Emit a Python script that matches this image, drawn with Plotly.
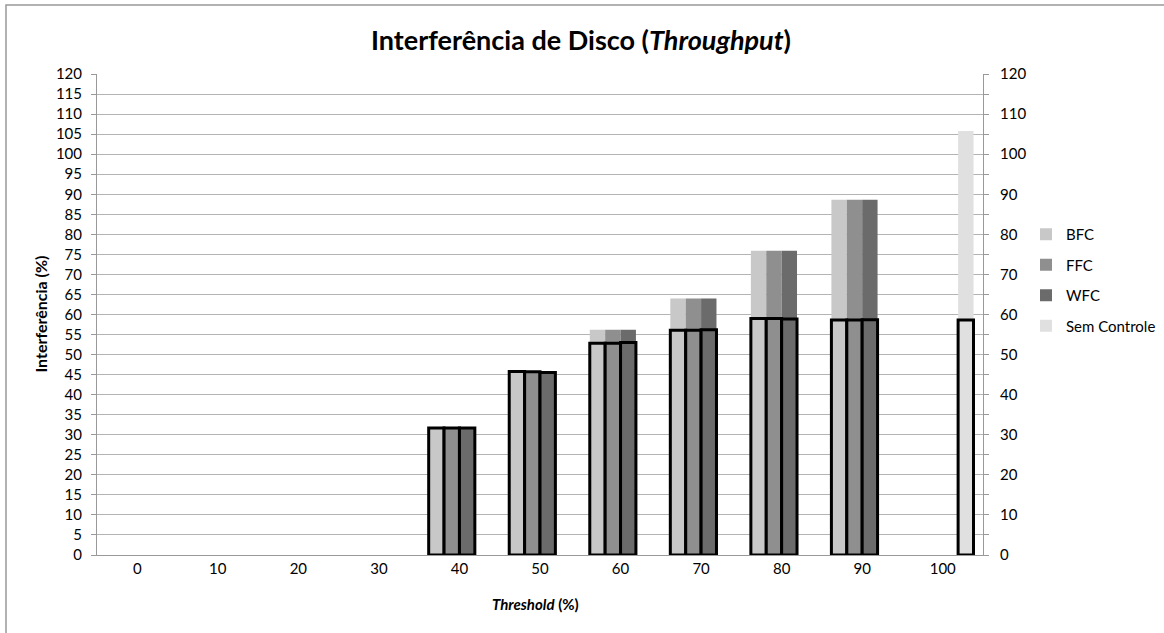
import plotly.graph_objects as go

categories = ["0", "10", "20", "30", "40", "50", "60", "70", "80", "90", "100"]
series_names = ["BFC", "FFC", "WFC", "Sem Controle"]

# total interference (no outline, primary axis)
bfc_total = [None, None, None, None, 31.7, 45.8, 56.2, 64.0, 75.9, 88.6, None]
ffc_total = [None, None, None, None, 31.7, 45.7, 56.2, 64.0, 75.9, 88.6, None]
wfc_total = [None, None, None, None, 31.7, 45.5, 56.2, 64.0, 75.9, 88.6, None]
sem_total = [None, None, None, None, None, None, None, None, None, None, 105.8]

# outlined bars (secondary axis)
bfc_out = [None, None, None, None, 31.7, 45.8, 52.8, 56.1, 59.0, 58.6, None]
ffc_out = [None, None, None, None, 31.7, 45.7, 52.8, 56.1, 59.0, 58.6, None]
wfc_out = [None, None, None, None, 31.7, 45.5, 53.0, 56.2, 58.9, 58.7, None]
sem_out = [None, None, None, None, None, None, None, None, None, None, 58.6]

colors = ["#c8c8c8", "#8f8f8f", "#6b6b6b", "#e0e0e0"]
totals = [bfc_total, ffc_total, wfc_total, sem_total]
outs = [bfc_out, ffc_out, wfc_out, sem_out]

bw = 0.191
offsets = [-2 * bw, -bw, 0, bw]

fig = go.Figure()
for name, vals, col, off in zip(series_names, totals, colors, offsets):
    fig.add_trace(go.Bar(x=categories, y=vals, name=name, marker_color=col,
                         marker_line_width=0, width=bw, offset=off,
                         legendgroup=name, yaxis="y"))
for name, vals, col, off in zip(series_names, outs, colors, offsets):
    fig.add_trace(go.Bar(x=categories, y=vals, name=name, marker_color=col,
                         marker_line_color="black", marker_line_width=3,
                         width=bw, offset=off, showlegend=False,
                         legendgroup=name, yaxis="y2"))

L, R, T, B = 97, 181, 74, 78
W, H = 1164, 633
pw, ph = W - L - R, H - T - B

FAM = "Lato, 'Open Sans', sans-serif"
font = dict(family=FAM, size=15, color="#000")

fig.update_layout(
    width=W, height=H,
    margin=dict(l=L, r=R, t=T, b=B, autoexpand=False),
    barmode="overlay",
    plot_bgcolor="white", paper_bgcolor="white",
    font=font,
    title=dict(text="<b>Interferência de Disco (<i>Throughput</i>)</b>",
               x=581 / W, xanchor="center", y=(H - 41) / H, yanchor="middle",
               font=dict(family=FAM, size=27, color="#000")),
    xaxis=dict(type="category", showline=True, linecolor="#999", linewidth=1,
               ticks="", showgrid=False, tickfont=font, range=[-0.5, 10.5],
               automargin=False),
    yaxis=dict(range=[0, 120], dtick=5, showline=True, linecolor="#999",
               linewidth=1, ticks="outside", ticklen=5, tickcolor="#999",
               showgrid=True, gridcolor="#b4b4b4", gridwidth=1, tickfont=font,
               zeroline=False, automargin=False, ticklabelstandoff=6),
    yaxis2=dict(range=[0, 120], dtick=10, overlaying="y", side="right",
                showline=True, linecolor="#999", linewidth=1,
                ticks="outside", ticklen=5, tickcolor="#999",
                minor=dict(dtick=5, ticks="outside", ticklen=5, tickcolor="#999"),
                showgrid=False, tickfont=font, zeroline=False,
                automargin=False, ticklabelstandoff=8),
    legend=dict(x=(1026 - L) / pw, xanchor="left", y=(H - B - 218) / ph,
                yanchor="top", font=font, tracegroupgap=8,
                bgcolor="rgba(0,0,0,0)"),
    showlegend=True,
)

fig.add_annotation(text="<b>Interferência (%)</b>", xref="paper", yref="paper",
                   x=(40 - L) / pw, y=0.5, textangle=-90, showarrow=False,
                   xanchor="center", yanchor="middle",
                   font=dict(family=FAM, size=16, color="#000"))
fig.add_annotation(text="<b><i>Threshold</i> (%)</b>", xref="paper", yref="paper",
                   x=(535 - L) / pw, y=(555 - 604) / ph, showarrow=False,
                   xanchor="center", yanchor="middle", font=font)

fig.add_shape(type="rect", xref="paper", yref="paper",
              x0=(6 - L) / pw, x1=(1180 - L) / pw,
              y0=(555 - 645) / ph, y1=(555 - 5) / ph,
              line=dict(color="#999", width=1.5), fillcolor="rgba(0,0,0,0)",
              layer="below")

fig.write_html("out.html", config={"displayModeBar": False},
               post_script="document.body.style.margin='0';document.body.style.overflow='hidden';")
